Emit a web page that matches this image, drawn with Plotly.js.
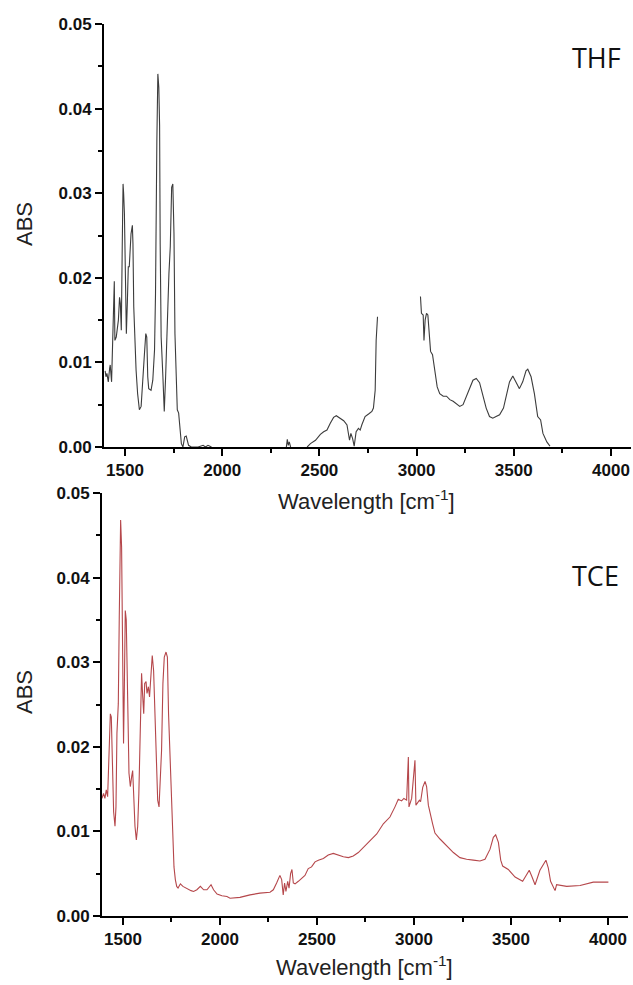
<!DOCTYPE html>
<html>
<head>
<meta charset="utf-8">
<script src="https://cdn.plot.ly/plotly-3.0.1.min.js"></script>
<style>html,body{margin:0;padding:0;background:#fff;}#chart{width:633px;height:985px;}</style>
</head>
<body>
<div id="chart"></div>
<script>
// THF spectrum (null = no data drawn)
var thfWavenumber = [
  1398,1402,1407,1414,1421,1424,1431,1436,1445,1448,
  1455,1466,1472,1476,1481,1486,1490,1493,1497,1502,
  1507,1512,1517,1522,1531,1538,1541,1545,1552,1557,
  1565,1574,1583,1591,1600,1607,1612,1617,1622,1634,
  1643,1652,1657,1664,1669,1674,1678,1681,1686,1695,
  1702,1709,1717,1726,1733,1740,1746,1752,1757,1764,
  1769,1776,1781,1790,1798,1807,1815,1827,1841,1876,
  1902,1914,1927,1945,1950,
  2330,2335,2340,2345,2352,2360,
  2437,2454,2480,2505,2522,2539,2556,2573,2587,2604,
  2625,2642,2650,2655,2662,2671,2679,2689,2701,2710,
  2718,2735,2753,2770,2778,2787,2792,2799,2900,
  3020,3025,3034,3038,3044,3051,3058,3065,3072,3082,
  3094,3106,3119,3137,3154,3171,3188,3205,3222,3239,
  3256,3273,3290,3307,3324,3341,3358,3375,3392,3409,
  3427,3447,3461,3478,3495,3512,3529,3546,3563,3572,
  3589,3606,3623,3638,3650,3670,3686];
var thfAbs = [
  0.0090,0.0083,0.0087,0.0077,0.0093,0.0097,0.0077,0.0126,0.0196,0.0126,
  0.0130,0.0150,0.0177,0.0170,0.0138,0.0240,0.0311,0.0300,0.0276,0.0200,
  0.0134,0.0170,0.0213,0.0213,0.0252,0.0262,0.0240,0.0166,0.0110,0.0091,
  0.0063,0.0044,0.0048,0.0083,0.0110,0.0134,0.0130,0.0083,0.0069,0.0067,
  0.0079,0.0115,0.0181,0.0363,0.0441,0.0425,0.0380,0.0240,0.0130,0.0083,
  0.0042,0.0083,0.0150,0.0205,0.0237,0.0307,0.0311,0.0252,0.0134,0.0067,
  0.0044,0.0040,0.0026,0.0004,0.0000,0.0012,0.0013,0.0002,0.0000,0.0000,
  0.0002,0.0000,0.0002,0.0000,null,
  0.0000,0.0009,0.0002,0.0006,0.0000,null,
  0.0000,0.0004,0.0008,0.0015,0.0018,0.0020,0.0028,0.0035,0.0037,0.0034,
  0.0031,0.0026,0.0016,0.0008,0.0016,0.0010,0.0001,0.0018,0.0022,0.0020,
  0.0026,0.0036,0.0039,0.0042,0.0046,0.0067,0.0126,0.0154,null,
  0.0178,0.0158,0.0156,0.0126,0.0150,0.0158,0.0156,0.0134,0.0113,0.0109,
  0.0087,0.0071,0.0063,0.0060,0.0060,0.0056,0.0054,0.0051,0.0048,0.0050,
  0.0060,0.0071,0.0079,0.0081,0.0076,0.0061,0.0046,0.0036,0.0034,0.0036,
  0.0038,0.0046,0.0060,0.0077,0.0084,0.0077,0.0069,0.0077,0.0090,0.0092,
  0.0083,0.0063,0.0036,0.0032,0.0016,0.0006,0.0001];

// TCE spectrum
var tceWavenumber = [
  1392,1400,1407,1414,1421,1428,1435,1440,1445,1452,
  1459,1464,1469,1476,1481,1485,1488,1493,1498,1503,
  1507,1512,1517,1521,1526,1531,1538,1545,1550,1555,
  1562,1569,1576,1582,1589,1596,1601,1607,1612,1619,
  1624,1631,1637,1644,1651,1658,1665,1672,1679,1686,
  1692,1699,1706,1713,1722,1729,1735,1742,1749,1756,
  1763,1770,1777,1784,1796,1809,1823,1837,1851,1864,
  1881,1899,1916,1933,1954,1967,1985,2010,2036,
  2052,2103,2155,2206,2258,2275,2292,2309,2318,2326,
  2333,2340,2349,2356,2364,2371,2378,2387,2404,2421,
  2438,2455,2472,2490,2507,2533,2558,2584,2610,2636,
  2662,2687,2713,2739,2773,2808,2842,2876,2902,2919,
  2936,2948,2962,2971,2974,2988,3005,3010,3028,3034,
  3045,3057,3065,3074,3096,3108,3134,3168,3203,3237,
  3271,3306,3340,3366,3392,3409,3421,3435,3447,3457,
  3486,3521,3560,3581,3594,3607,3624,3649,3667,3680,
  3692,3704,3727,3735,3787,3856,3924,4002];
var tceAbs = [
  0.0139,0.0145,0.0139,0.0149,0.0141,0.0182,0.0239,0.0235,0.0176,0.0123,
  0.0106,0.0129,0.0216,0.0251,0.0354,0.0436,0.0468,0.0436,0.0283,0.0204,
  0.0267,0.0361,0.0350,0.0314,0.0235,0.0169,0.0153,0.0165,0.0172,0.0145,
  0.0106,0.0090,0.0106,0.0145,0.0212,0.0287,0.0263,0.0239,0.0275,0.0277,
  0.0263,0.0271,0.0259,0.0287,0.0308,0.0290,0.0239,0.0169,0.0137,0.0129,
  0.0157,0.0196,0.0275,0.0306,0.0312,0.0306,0.0239,0.0188,0.0145,0.0090,
  0.0058,0.0043,0.0035,0.0033,0.0038,0.0035,0.0033,0.0031,0.0030,0.0029,
  0.0031,0.0035,0.0031,0.0031,0.0037,0.0031,0.0026,0.0024,0.0023,
  0.0021,0.0022,0.0025,0.0027,0.0028,0.0031,0.0039,0.0048,0.0043,0.0025,
  0.0039,0.0029,0.0041,0.0033,0.0050,0.0055,0.0039,0.0038,0.0041,0.0045,
  0.0048,0.0056,0.0058,0.0064,0.0066,0.0068,0.0072,0.0074,0.0072,0.0070,
  0.0069,0.0071,0.0075,0.0081,0.0088,0.0097,0.0109,0.0117,0.0129,0.0138,
  0.0136,0.0139,0.0137,0.0188,0.0129,0.0139,0.0184,0.0131,0.0137,0.0135,
  0.0152,0.0159,0.0153,0.0131,0.0109,0.0098,0.0091,0.0083,0.0075,0.0069,
  0.0067,0.0066,0.0065,0.0067,0.0079,0.0093,0.0096,0.0087,0.0066,0.0059,
  0.0055,0.0046,0.0041,0.0049,0.0054,0.0047,0.0037,0.0054,0.0062,0.0066,
  0.0057,0.0041,0.0030,0.0037,0.0035,0.0036,0.0040,0.0040];

var xTickVals = [1500,2000,2500,3000,3500,4000];
var yTickVals = [0.00,0.01,0.02,0.03,0.04,0.05];
var labels = ['THF','TCE'];
var xTitle = 'Wavelength [cm<sup>-1</sup>]';
var yTitle = 'ABS';

var W = 633, H = 985;
var tickFont = {family:'Liberation Sans, Arial, sans-serif', size:17, weight:'bold', color:'#111'};
var titleFont = {family:'Liberation Sans, Arial, sans-serif', size:22, color:'#222'};
var labelFont = {family:'Open Sans, Noto Sans, sans-serif', size:27, color:'#111'};

function xAxis(domain, anchor){
  return {domain:domain, anchor:anchor, range:[1392,4103], showline:true, linewidth:2, linecolor:'#000',
    ticks:'outside', ticklen:7, tickwidth:2, tickcolor:'#000', tickvals:xTickVals, tickfont:tickFont,
    showgrid:false, zeroline:false,
    minor:{dtick:250, tick0:1500, ticks:'outside', ticklen:4, tickwidth:2, tickcolor:'#000', showgrid:false}};
}
function yAxis(domain, anchor){
  return {domain:domain, anchor:anchor, range:[0,0.05], showline:true, linewidth:2, linecolor:'#000',
    ticks:'outside', ticklen:7, tickwidth:2, tickcolor:'#000', tickvals:yTickVals, tickformat:'.2f', tickfont:tickFont,
    showgrid:false, zeroline:false,
    minor:{dtick:0.005, tick0:0, ticks:'outside', ticklen:4, tickwidth:2, tickcolor:'#000', showgrid:false}};
}
function paperText(text, px, py, font, angle){
  return {text:text, xref:'paper', yref:'paper', x:px/W, y:1-py/H, showarrow:false,
    xanchor:'center', yanchor:'middle', font:font, textangle:angle||0};
}

var data = [
  {x:thfWavenumber, y:thfAbs, type:'scatter', mode:'lines', line:{color:'#3c3c3c', width:1.1}, connectgaps:false, xaxis:'x', yaxis:'y', hoverinfo:'skip'},
  {x:tceWavenumber, y:tceAbs, type:'scatter', mode:'lines', line:{color:'#b5474b', width:1.1}, xaxis:'x2', yaxis:'y2', hoverinfo:'skip'}
];

var layout = {
  width:W, height:H, margin:{l:0,r:0,t:0,b:0}, showlegend:false,
  paper_bgcolor:'#fff', plot_bgcolor:'#fff',
  xaxis: xAxis([104/W, 631/W], 'y'),
  yaxis: yAxis([1-447/H, 1-24/H], 'x'),
  xaxis2: xAxis([102/W, 628/W], 'y2'),
  yaxis2: yAxis([1-916/H, 1-493/H], 'x2'),
  annotations:[
    {text:labels[0], xref:'x', yref:'y', x:3923, y:0.046, showarrow:false, xanchor:'center', yanchor:'middle', font:labelFont},
    {text:labels[1], xref:'x2', yref:'y2', x:3938, y:0.0402, showarrow:false, xanchor:'center', yanchor:'middle', font:labelFont},
    paperText(xTitle, 366, 500, titleFont),
    paperText(xTitle, 364, 966, titleFont),
    paperText(yTitle, 24, 224, titleFont, -90),
    paperText(yTitle, 24, 692, titleFont, -90)
  ]
};

Plotly.newPlot('chart', data, layout, {staticPlot:true, displayModeBar:false});
</script>
</body>
</html>
